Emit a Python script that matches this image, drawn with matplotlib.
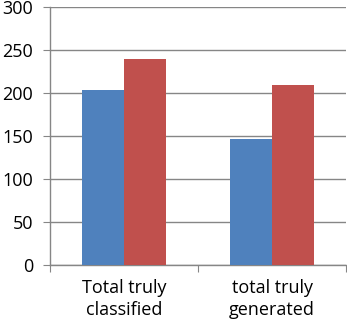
import matplotlib
matplotlib.use('Agg')
import matplotlib.pyplot as plt
import numpy as np

categories = ["Total truly\nclassified", "total truly\ngenerated"]
series_blue = [203, 147]
series_red = [239, 209]
y_ticks = [0, 50, 100, 150, 200, 250, 300]

plt.rcParams['font.family'] = ['Open Sans', 'DejaVu Sans']

fig = plt.figure(figsize=(3.47, 3.27), dpi=100)
ax = fig.add_axes([50 / 347, 62 / 327, 296 / 347, 258 / 327])

x = np.arange(len(categories)) + 0.5
w = 0.284
ax.bar(x - w / 2, series_blue, width=w, color="#4F81BD", zorder=3)
ax.bar(x + w / 2, series_red, width=w, color="#C0504D", zorder=3)

ax.set_xlim(0, len(categories))
ax.set_ylim(0, 300)
ax.set_yticks(y_ticks)
ax.set_xticks(np.arange(len(categories) + 1))
ax.set_xticklabels([])
ax.set_xticks(x, minor=True)
ax.set_xticklabels(categories, minor=True, fontsize=13, linespacing=1.3)
ax.tick_params(axis='x', which='minor', length=0, pad=10)
ax.tick_params(axis='x', which='major', length=5, color="#868686", direction='out')
ax.tick_params(axis='y', length=5, color="#868686", labelsize=13, pad=7)

ax.grid(axis='y', color="#868686", linewidth=1, zorder=0)
for s in ['top', 'right']:
    ax.spines[s].set_visible(False)
for s in ['left', 'bottom']:
    ax.spines[s].set_color("#868686")
    ax.spines[s].set_linewidth(1)

fig.savefig("out.png", dpi=100)
